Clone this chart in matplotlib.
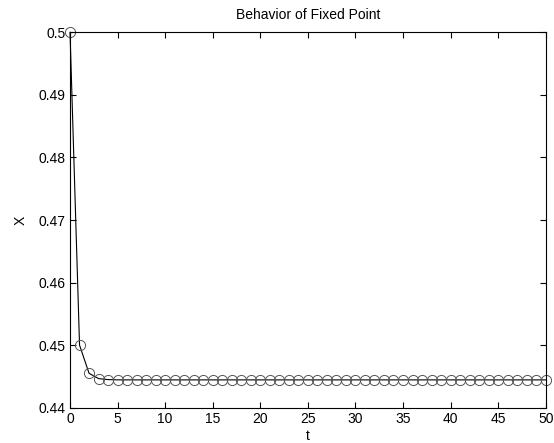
import matplotlib
matplotlib.use("Agg")
import matplotlib.pyplot as plt

t = list(range(51))
x_vals = [0.5, 0.45, 0.4455, 0.44465, 0.44449, 0.44445, 0.444445] + [0.444444] * 44

xticks = [0, 5, 10, 15, 20, 25, 30, 35, 40, 45, 50]
yticks = [0.44, 0.45, 0.46, 0.47, 0.48, 0.49, 0.5]
ytick_labels = ["0.44", "0.45", "0.46", "0.47", "0.48", "0.49", "0.5"]

plt.rcParams['font.family'] = ['Liberation Sans', 'DejaVu Sans']

fig = plt.figure(figsize=(5.54, 4.43), dpi=100)
ax = fig.add_axes([0.1264, 0.0797, 0.985 - 0.1264, 0.927 - 0.0797])

ax.plot(t, x_vals, color='black', linewidth=0.8, marker='o', markersize=7.3,
        markerfacecolor='none', markeredgecolor='#555555', markeredgewidth=0.7,
        clip_on=False)

ax.set_xlim(0, 50)
ax.set_ylim(0.44, 0.5)
ax.set_xticks(xticks)
ax.set_yticks(yticks)
ax.set_yticklabels(ytick_labels)
ax.tick_params(direction='in', top=True, right=True, labelsize=10, length=4, width=0.8, pad=3)
for s in ax.spines.values():
    s.set_linewidth(0.8)

ax.set_title("Behavior of Fixed Point", fontsize=10, pad=9.5)
ax.set_xlabel("t", fontsize=10, labelpad=2.5)
ax.set_ylabel("X", fontsize=10, labelpad=8)

fig.savefig("out.png", dpi=100)
